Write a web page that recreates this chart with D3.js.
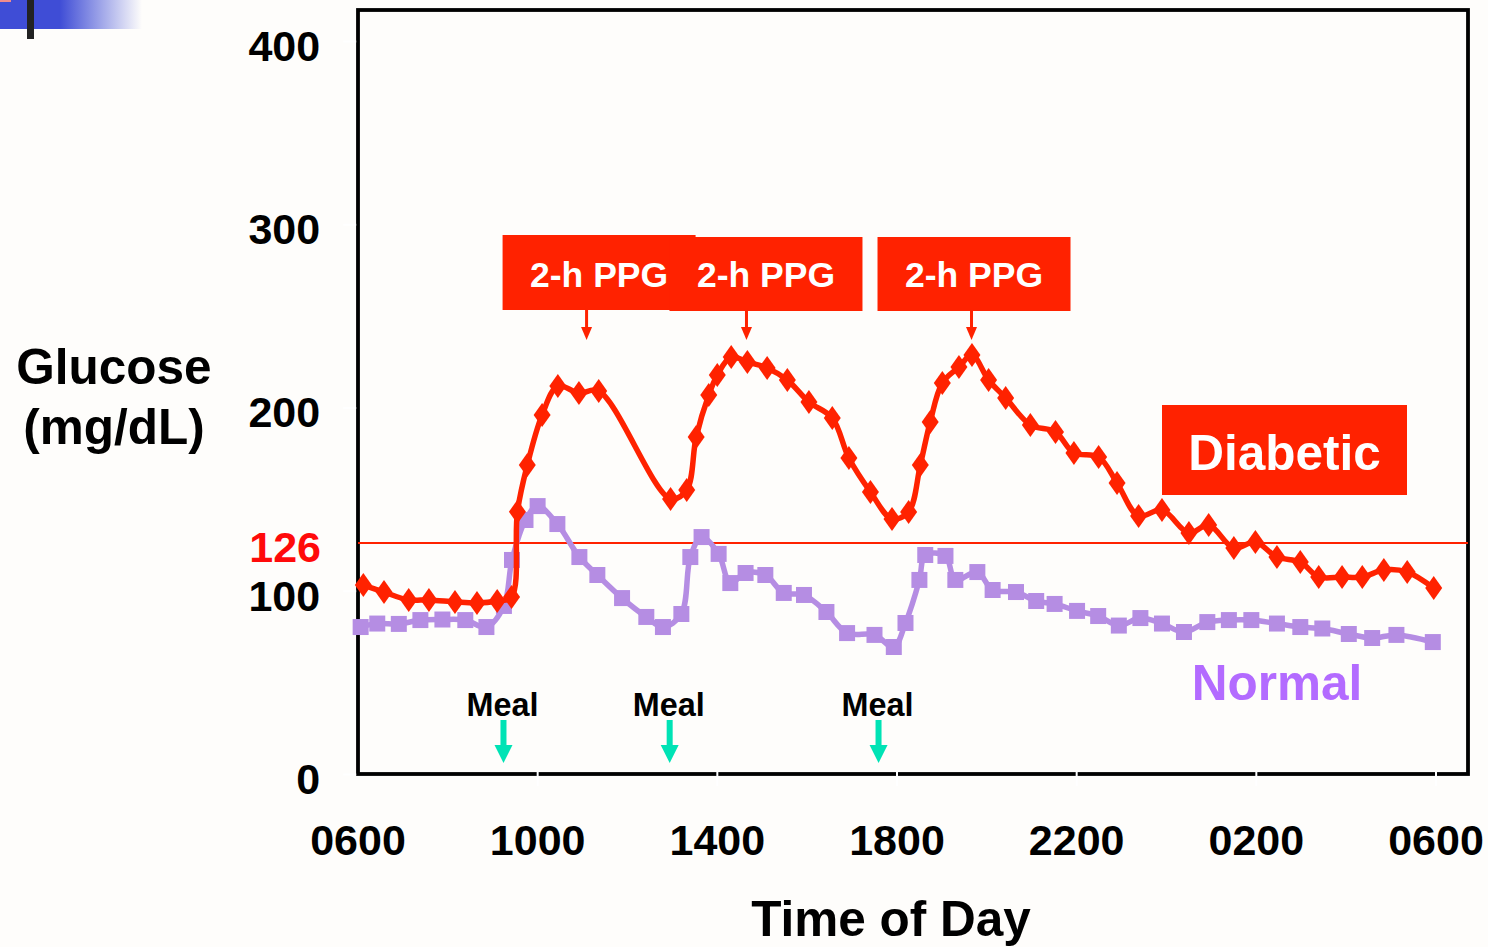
<!DOCTYPE html>
<html>
<head>
<meta charset="utf-8">
<script src="https://cdn.jsdelivr.net/npm/d3@7"></script>
<style>
  html, body { margin: 0; padding: 0; background: #fefdfb; }
  svg { display: block; }
  text { font-family: Arial, "Liberation Sans", sans-serif; font-weight: bold; }
</style>
</head>
<body>
<svg id="chart" width="1488" height="947"></svg>
<script>
// Time of day in hours counted from 06:00 (6 = 0600, 30 = 0600 next day)
const diabeticHours = [6.13, 6.59, 7.14, 7.59, 8.17, 8.66, 9.11, 9.43, 9.56, 9.78,
  10.11, 10.46, 10.93, 11.37, 12.97, 13.33, 13.54, 13.82, 14.01, 14.32,
  14.68, 15.12, 15.57, 16.05, 16.57, 16.94, 17.42, 17.90, 18.27, 18.53,
  18.75, 19.02, 19.39, 19.68, 20.05, 20.43, 20.98, 21.54, 21.95, 22.50,
  22.91, 23.39, 23.91, 24.51, 24.95, 25.51, 25.99, 26.47, 26.99, 27.40,
  27.92, 28.37, 28.85, 29.37, 29.96];
const diabeticValues = [103.1, 99.3, 95.0, 95.0, 93.9, 93.3, 94.4, 96.6, 143.1, 168.6,
  195.9, 211.7, 207.9, 209.0, 150.1, 155.0, 183.9, 206.8, 217.7, 227.6,
  224.8, 221.6, 215.0, 203.0, 194.3, 172.4, 153.9, 139.2, 143.0, 168.6,
  192.1, 213.4, 222.1, 228.6, 215.0, 205.2, 190.5, 186.6, 175.2, 173.0,
  158.8, 140.8, 144.1, 131.5, 135.9, 123.3, 126.6, 118.4, 115.7, 107.5,
  107.5, 107.5, 111.3, 110.2, 101.5];

const normalHours = [6.07, 6.44, 6.92, 7.40, 7.89, 8.40, 8.87, 9.26, 9.44, 9.74,
  10.01, 10.45, 10.94, 11.34, 11.89, 12.43, 12.80, 13.21, 13.41, 13.66,
  14.04, 14.30, 14.64, 15.08, 15.49, 15.94, 16.44, 16.90, 17.51, 17.94,
  18.20, 18.51, 18.64, 19.09, 19.31, 19.80, 20.14, 20.66, 21.11, 21.52,
  22.02, 22.49, 22.95, 23.43, 23.91, 24.40, 24.92, 25.40, 25.90, 26.47,
  26.99, 27.48, 28.07, 28.59, 29.13, 29.94];
const normalValues = [80.2, 82.1, 81.9, 84.0, 84.3, 84.0, 80.2, 91.7, 116.8, 138.6,
  146.2, 136.4, 118.4, 108.6, 96.0, 85.7, 80.2, 87.3, 118.4, 129.3,
  120.1, 104.2, 109.7, 108.6, 98.8, 97.7, 88.4, 76.9, 75.9, 69.3,
  82.4, 105.9, 119.5, 119.0, 105.9, 110.2, 100.4, 99.3, 94.4, 92.8,
  89.0, 86.2, 81.0, 85.1, 82.1, 77.5, 82.9, 84.0, 84.0, 82.1,
  80.2, 79.4, 76.4, 74.2, 75.9, 72.0];

const xTickHours = [6, 10, 14, 18, 22, 26, 30];
const xTickLabels = ["0600", "1000", "1400", "1800", "2200", "0200", "0600"];
const yTickValues = [0, 100, 200, 300, 400];
const thresholdValue = 126;
const mealHours = [9.25, 12.95, 17.6];
const ppgHours = [11.1, 14.66, 19.67];

// ---- layout ----
const svg = d3.select("#chart");
const frame = { left: 358, top: 10, right: 1468, bottom: 774 };
const x = d3.scaleLinear().domain([6, 30]).range([357.5, 1435.5]);
const y = d3.scaleLinear().domain([0, 400]).range([774, 41]);

const RED = "#ff2200";
const PURPLE = "#b58de3";
const TEAL = "#00e3b5";
const FONT = "Arial, 'Liberation Sans', sans-serif";

// slide corner decoration
const defs = svg.append("defs");
const grad = defs.append("linearGradient").attr("id", "cornerFade")
  .attr("x1", "0").attr("x2", "1").attr("y1", "0").attr("y2", "0");
grad.append("stop").attr("offset", "0.42").attr("stop-color", "#3f4dd6").attr("stop-opacity", 1);
grad.append("stop").attr("offset", "1").attr("stop-color", "#3f4dd6").attr("stop-opacity", 0);
svg.append("rect").attr("x", 0).attr("y", 0).attr("width", 142).attr("height", 29).attr("fill", "url(#cornerFade)");
svg.append("rect").attr("x", 0).attr("y", 0).attr("width", 11).attr("height", 2).attr("fill", "#f08c8c");
svg.append("rect").attr("x", 27).attr("y", 0).attr("width", 7).attr("height", 39).attr("fill", "#222");

// plot frame
svg.append("rect")
  .attr("x", frame.left).attr("y", frame.top)
  .attr("width", frame.right - frame.left).attr("height", frame.bottom - frame.top)
  .attr("fill", "none").attr("stroke", "#000").attr("stroke-width", 3.8);

// x axis (white ticks notch the frame)
const xAxis = svg.append("g").attr("transform", `translate(0,772)`)
  .call(d3.axisBottom(x).tickValues(xTickHours)
    .tickFormat((d, i) => xTickLabels[i]).tickSize(14).tickPadding(38));
xAxis.select(".domain").remove();
xAxis.selectAll(".tick line").attr("stroke", "#fff").attr("stroke-width", 2)
  .attr("display", (d, i) => i === 0 ? "none" : null);
xAxis.selectAll(".tick text").attr("font-size", 43).attr("fill", "#000")
  .attr("font-family", FONT).attr("font-weight", "bold");

// y axis
const yAxis = svg.append("g").attr("transform", `translate(${frame.left - 1.8},0)`)
  .call(d3.axisLeft(y).tickValues(yTickValues).tickSize(13).tickPadding(23));
yAxis.select(".domain").remove();
yAxis.selectAll(".tick line").attr("stroke", "#fff").attr("stroke-width", 2);
yAxis.selectAll(".tick text").attr("font-size", 43).attr("fill", "#000").attr("dy", "0.45em")
  .attr("font-family", FONT).attr("font-weight", "bold");

// threshold line and its label
svg.append("line")
  .attr("x1", frame.left).attr("x2", frame.right)
  .attr("y1", y(thresholdValue)).attr("y2", y(thresholdValue))
  .attr("stroke", RED).attr("stroke-width", 2);
svg.append("text")
  .attr("x", 321).attr("y", y(thresholdValue)).attr("dy", "0.45em")
  .attr("text-anchor", "end").attr("font-size", 43).attr("fill", "#ff0a0a")
  .text(thresholdValue);

// axis titles
svg.append("text").attr("x", 114).attr("y", 384).attr("text-anchor", "middle")
  .attr("font-size", 49.5).attr("fill", "#000").text("Glucose");
svg.append("text").attr("x", 114).attr("y", 444).attr("text-anchor", "middle")
  .attr("font-size", 49.5).attr("fill", "#000").text("(mg/dL)");
svg.append("text").attr("x", 891).attr("y", 936).attr("text-anchor", "middle")
  .attr("font-size", 49.5).attr("fill", "#000").text("Time of Day");

// series
const line = d3.line()
  .x(d => x(d[0])).y(d => y(d[1]))
  .curve(d3.curveCatmullRom.alpha(0.5));

const normalData = normalHours.map((h, i) => [h, normalValues[i]]);
const diabeticData = diabeticHours.map((h, i) => [h, diabeticValues[i]]);

svg.append("path").datum(normalData).attr("d", line)
  .attr("fill", "none").attr("stroke", PURPLE).attr("stroke-width", 5.5)
  .attr("stroke-linejoin", "round");
svg.append("g").selectAll("path").data(normalData).join("path")
  .attr("d", "M-8,-8h16v16h-16Z")
  .attr("transform", d => `translate(${x(d[0])},${y(d[1])})`)
  .attr("fill", PURPLE);

svg.append("path").datum(diabeticData).attr("d", line)
  .attr("fill", "none").attr("stroke", RED).attr("stroke-width", 5.5)
  .attr("stroke-linejoin", "round");
svg.append("g").selectAll("path").data(diabeticData).join("path")
  .attr("d", "M0,-12L8.5,0L0,12L-8.5,0Z")
  .attr("transform", d => `translate(${x(d[0])},${y(d[1])})`)
  .attr("fill", RED);

// meal markers
const meals = svg.append("g").selectAll("g").data(mealHours).join("g")
  .attr("transform", d => `translate(${x(d)},0)`);
meals.append("text").attr("x", -1).attr("y", 716).attr("text-anchor", "middle")
  .attr("font-size", 34).attr("fill", "#000")
  .attr("textLength", 72).attr("lengthAdjust", "spacingAndGlyphs").text("Meal");
meals.append("rect").attr("x", -3).attr("y", 720).attr("width", 6).attr("height", 27).attr("fill", TEAL);
meals.append("path").attr("d", "M-9,745L9,745L0,763Z").attr("fill", TEAL);

// 2-h PPG callouts
const boxOffsets = [-84, -77, -94];
const ppg = svg.append("g").selectAll("g").data(ppgHours).join("g")
  .attr("transform", d => `translate(${x(d)},0)`);
ppg.append("rect")
  .attr("x", (d, i) => boxOffsets[i]).attr("y", (d, i) => i === 0 ? 235 : 237)
  .attr("width", 193).attr("height", (d, i) => i === 0 ? 75 : 74).attr("fill", RED);
ppg.append("text")
  .attr("x", (d, i) => boxOffsets[i] + 96.5).attr("y", 287)
  .attr("text-anchor", "middle").attr("font-size", 35.5).attr("fill", "#fff")
  .text("2-h PPG");
ppg.append("rect").attr("x", -1.5).attr("y", 309).attr("width", 3).attr("height", 20).attr("fill", RED);
ppg.append("path").attr("d", "M-5.5,327L5.5,327L0,340Z").attr("fill", RED);

// series labels
svg.append("rect").attr("x", 1162).attr("y", 405).attr("width", 245).attr("height", 90).attr("fill", RED);
svg.append("text").attr("x", 1284.5).attr("y", 470).attr("text-anchor", "middle")
  .attr("font-size", 49.5).attr("fill", "#fff").text("Diabetic");
svg.append("text").attr("x", 1277).attr("y", 700).attr("text-anchor", "middle")
  .attr("font-size", 49.5).attr("fill", "#b36bff").text("Normal");
</script>
</body>
</html>
